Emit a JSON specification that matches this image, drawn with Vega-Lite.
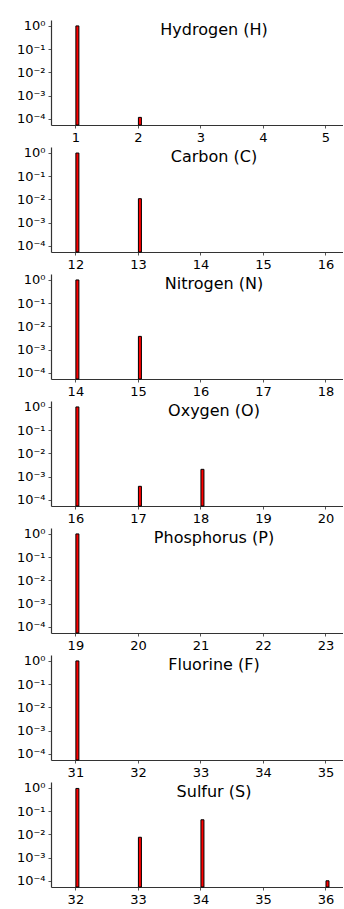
{
  "$schema": "https://vega.github.io/schema/vega-lite/v6.json",
  "padding": {"left": 16, "top": 19, "right": 0, "bottom": 0},
  "background": "white",
  "config": {
    "font": "DejaVu Sans",
    "view": {"stroke": null},
    "axis": {
      "grid": false,
      "title": null,
      "labelFont": "DejaVu Sans",
      "labelFontSize": 13,
      "labelColor": "#000000",
      "domainColor": "#333333",
      "domainWidth": 1.2,
      "tickColor": "#555555",
      "tickSize": 3,
      "labelPadding": 3
    },
    "title": {
      "font": "DejaVu Sans",
      "fontSize": 16,
      "fontWeight": "normal",
      "color": "#000000",
      "anchor": "middle",
      "frame": "group",
      "orient": "top",
      "baseline": "alphabetic",
      "offset": -18,
      "dx": 17
    },
    "bar": {"fill": "#ff0000", "stroke": "#000000", "strokeWidth": 1, "orient": "vertical"}
  },
  "datasets": {
    "isotopes": [
      {"element": "Hydrogen (H)", "mass": 1, "abundance": 0.99988},
      {"element": "Hydrogen (H)", "mass": 2, "abundance": 0.000115},
      {"element": "Carbon (C)", "mass": 12, "abundance": 0.989},
      {"element": "Carbon (C)", "mass": 13, "abundance": 0.0107},
      {"element": "Nitrogen (N)", "mass": 14, "abundance": 0.9963},
      {"element": "Nitrogen (N)", "mass": 15, "abundance": 0.0037},
      {"element": "Oxygen (O)", "mass": 16, "abundance": 0.9976},
      {"element": "Oxygen (O)", "mass": 17, "abundance": 0.00038},
      {"element": "Oxygen (O)", "mass": 18, "abundance": 0.00205},
      {"element": "Phosphorus (P)", "mass": 19, "abundance": 1.0},
      {"element": "Fluorine (F)", "mass": 31, "abundance": 1.0},
      {"element": "Sulfur (S)", "mass": 32, "abundance": 0.9499},
      {"element": "Sulfur (S)", "mass": 33, "abundance": 0.0075},
      {"element": "Sulfur (S)", "mass": 34, "abundance": 0.0425},
      {"element": "Sulfur (S)", "mass": 36, "abundance": 0.0001}
    ]
  },
  "data": {"name": "isotopes"},
  "vconcat": [
    {
      "title": "Hydrogen (H)",
      "width": 292, "height": 105,
      "transform": [{"filter": "datum.element == 'Hydrogen (H)'"}],
      "mark": {"type": "bar", "size": 3, "xOffset": 2, "orient": "vertical"},
      "encoding": {
        "x": {"field": "mass", "type": "quantitative", "scale": {"domain": [0.69, 5.2], "nice": false, "zero": false}, "axis": {"values": [1, 2, 3, 4, 5], "format": "d"}},
        "y": {"field": "abundance", "type": "quantitative", "scale": {"type": "log", "domain": [0.000054, 1.8], "nice": false}, "axis": {"values": [1, 0.1, 0.01, 0.001, 0.0001], "labelExpr": "'10' + ['⁰','⁻¹','⁻²','⁻³','⁻⁴'][-round(log(datum.value)/LN10)]"}},
        "y2": {"datum": 0.000054}
      }
    },
    {
      "title": "Carbon (C)",
      "width": 292, "height": 105,
      "transform": [{"filter": "datum.element == 'Carbon (C)'"}],
      "mark": {"type": "bar", "size": 3, "xOffset": 2, "orient": "vertical"},
      "encoding": {
        "x": {"field": "mass", "type": "quantitative", "scale": {"domain": [11.69, 16.2], "nice": false, "zero": false}, "axis": {"values": [12, 13, 14, 15, 16], "format": "d"}},
        "y": {"field": "abundance", "type": "quantitative", "scale": {"type": "log", "domain": [0.000054, 1.8], "nice": false}, "axis": {"values": [1, 0.1, 0.01, 0.001, 0.0001], "labelExpr": "'10' + ['⁰','⁻¹','⁻²','⁻³','⁻⁴'][-round(log(datum.value)/LN10)]"}},
        "y2": {"datum": 0.000054}
      }
    },
    {
      "title": "Nitrogen (N)",
      "width": 292, "height": 105,
      "transform": [{"filter": "datum.element == 'Nitrogen (N)'"}],
      "mark": {"type": "bar", "size": 3, "xOffset": 2, "orient": "vertical"},
      "encoding": {
        "x": {"field": "mass", "type": "quantitative", "scale": {"domain": [13.69, 18.2], "nice": false, "zero": false}, "axis": {"values": [14, 15, 16, 17, 18], "format": "d"}},
        "y": {"field": "abundance", "type": "quantitative", "scale": {"type": "log", "domain": [0.000054, 1.8], "nice": false}, "axis": {"values": [1, 0.1, 0.01, 0.001, 0.0001], "labelExpr": "'10' + ['⁰','⁻¹','⁻²','⁻³','⁻⁴'][-round(log(datum.value)/LN10)]"}},
        "y2": {"datum": 0.000054}
      }
    },
    {
      "title": "Oxygen (O)",
      "width": 292, "height": 105,
      "transform": [{"filter": "datum.element == 'Oxygen (O)'"}],
      "mark": {"type": "bar", "size": 3, "xOffset": 2, "orient": "vertical"},
      "encoding": {
        "x": {"field": "mass", "type": "quantitative", "scale": {"domain": [15.69, 20.2], "nice": false, "zero": false}, "axis": {"values": [16, 17, 18, 19, 20], "format": "d"}},
        "y": {"field": "abundance", "type": "quantitative", "scale": {"type": "log", "domain": [0.000054, 1.8], "nice": false}, "axis": {"values": [1, 0.1, 0.01, 0.001, 0.0001], "labelExpr": "'10' + ['⁰','⁻¹','⁻²','⁻³','⁻⁴'][-round(log(datum.value)/LN10)]"}},
        "y2": {"datum": 0.000054}
      }
    },
    {
      "title": "Phosphorus (P)",
      "width": 292, "height": 105,
      "transform": [{"filter": "datum.element == 'Phosphorus (P)'"}],
      "mark": {"type": "bar", "size": 3, "xOffset": 2, "orient": "vertical"},
      "encoding": {
        "x": {"field": "mass", "type": "quantitative", "scale": {"domain": [18.69, 23.2], "nice": false, "zero": false}, "axis": {"values": [19, 20, 21, 22, 23], "format": "d"}},
        "y": {"field": "abundance", "type": "quantitative", "scale": {"type": "log", "domain": [0.000054, 1.8], "nice": false}, "axis": {"values": [1, 0.1, 0.01, 0.001, 0.0001], "labelExpr": "'10' + ['⁰','⁻¹','⁻²','⁻³','⁻⁴'][-round(log(datum.value)/LN10)]"}},
        "y2": {"datum": 0.000054}
      }
    },
    {
      "title": "Fluorine (F)",
      "width": 292, "height": 105,
      "transform": [{"filter": "datum.element == 'Fluorine (F)'"}],
      "mark": {"type": "bar", "size": 3, "xOffset": 2, "orient": "vertical"},
      "encoding": {
        "x": {"field": "mass", "type": "quantitative", "scale": {"domain": [30.69, 35.2], "nice": false, "zero": false}, "axis": {"values": [31, 32, 33, 34, 35], "format": "d"}},
        "y": {"field": "abundance", "type": "quantitative", "scale": {"type": "log", "domain": [0.000054, 1.8], "nice": false}, "axis": {"values": [1, 0.1, 0.01, 0.001, 0.0001], "labelExpr": "'10' + ['⁰','⁻¹','⁻²','⁻³','⁻⁴'][-round(log(datum.value)/LN10)]"}},
        "y2": {"datum": 0.000054}
      }
    },
    {
      "title": "Sulfur (S)",
      "width": 292, "height": 105,
      "transform": [{"filter": "datum.element == 'Sulfur (S)'"}],
      "mark": {"type": "bar", "size": 3, "xOffset": 2, "orient": "vertical"},
      "encoding": {
        "x": {"field": "mass", "type": "quantitative", "scale": {"domain": [31.69, 36.2], "nice": false, "zero": false}, "axis": {"values": [32, 33, 34, 35, 36], "format": "d"}},
        "y": {"field": "abundance", "type": "quantitative", "scale": {"type": "log", "domain": [0.000054, 1.8], "nice": false}, "axis": {"values": [1, 0.1, 0.01, 0.001, 0.0001], "labelExpr": "'10' + ['⁰','⁻¹','⁻²','⁻³','⁻⁴'][-round(log(datum.value)/LN10)]"}},
        "y2": {"datum": 0.000054}
      }
    }
  ],
  "spacing": 22,
  "bounds": "flush"
}
